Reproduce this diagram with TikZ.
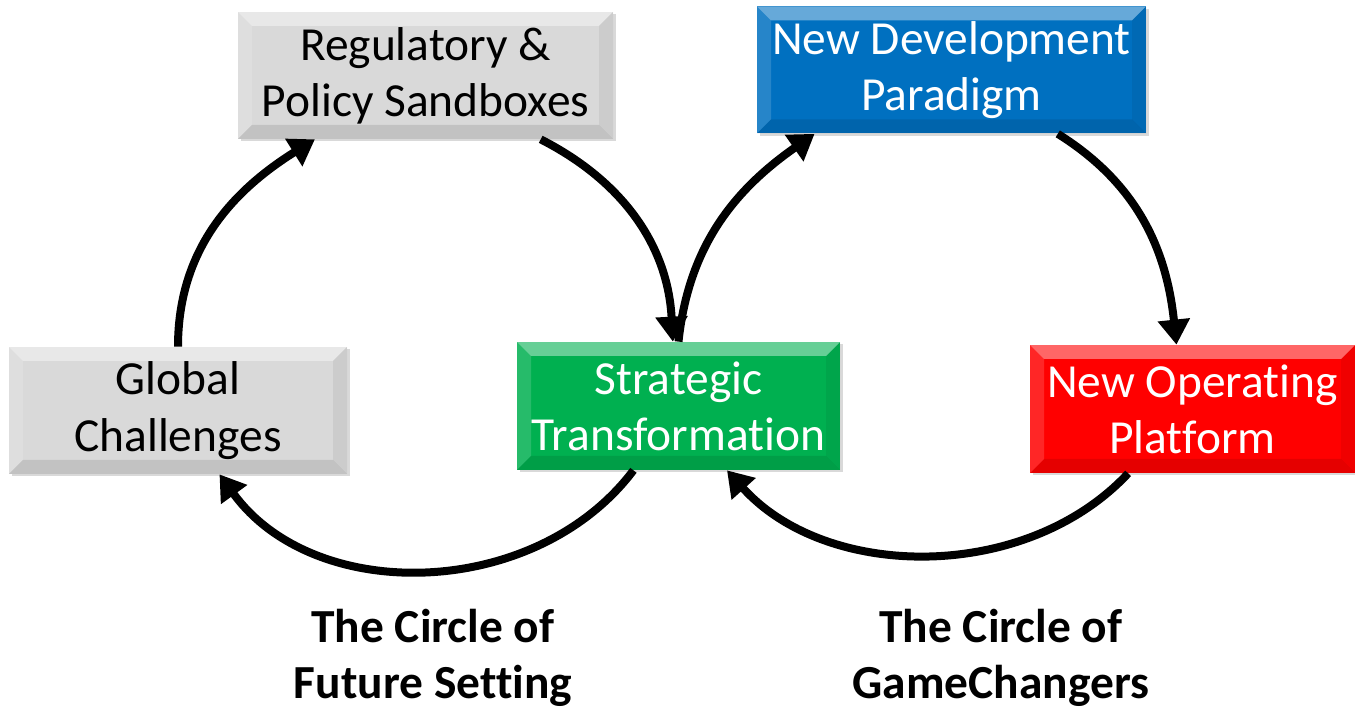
\documentclass[tikz,border=0pt]{standalone}
\usepackage{fontspec}
\setmainfont{Carlito}[Ligatures=NoCommon]
\usepackage{xcolor}
\usepackage{tikz}
\usetikzlibrary{positioning}
\usetikzlibrary{arrows.meta,shadows}
\usetikzlibrary{calc}

\begin{document}
\begin{tikzpicture}
    [%%%%%%%%%%%%%%%%%%%%%%%%%%%%%%
        box/.style={rectangle, minimum height=2.54cm, inner sep=0pt, align=center,
            font=\fontsize{27}{32}\selectfont,
            drop shadow={opacity=0.3,shadow xshift=0.05cm,shadow yshift=-0.05cm},
            path picture={
                \coordinate (bnw) at (path picture bounding box.north west);
                \coordinate (bne) at (path picture bounding box.north east);
                \coordinate (bsw) at (path picture bounding box.south west);
                \coordinate (bse) at (path picture bounding box.south east);
                \fill[white,opacity=0.4] (bnw) -- (bne) -- ($(bne)+(-0.28,-0.28)$) -- ($(bnw)+(0.28,-0.28)$) -- cycle;
                \fill[white,opacity=0.15] (bnw) -- (bsw) -- ($(bsw)+(0.28,0.28)$) -- ($(bnw)+(0.28,-0.28)$) -- cycle;
                \fill[black,opacity=0.06] (bne) -- (bse) -- ($(bse)+(-0.28,0.28)$) -- ($(bne)+(-0.28,-0.28)$) -- cycle;
                \fill[black,opacity=0.1] (bsw) -- (bse) -- ($(bse)+(-0.28,0.28)$) -- ($(bsw)+(0.28,0.28)$) -- cycle;
            }},
        cyc/.style={-{Triangle[length=0.5cm,width=0.62cm]}, line width=0.16cm},
        title/.style={align=center, font=\bfseries\fontsize{27}{32}\selectfont}
    ]%%%%%%%%%%%%%%%%%%%%%%%%%%%%%%
\definecolor{boxgray}{RGB}{217,217,217}
\definecolor{boxblue}{RGB}{0,112,192}
\definecolor{boxgreen}{RGB}{0,176,80}
\definecolor{boxred}{RGB}{255,0,0}

\useasboundingbox (0,0) rectangle (27.1,14.18);

\node[box,fill=boxgray,minimum width=7.5cm] (reg) at (8.51,12.67) {Regulatory \&\\Policy Sandboxes};
\node[box,fill=boxblue,text=white,minimum width=7.78cm] (dev) at (19.03,12.78) {New Development\\Paradigm};
\node[box,fill=boxgray,minimum width=6.76cm] (gc) at (3.56,5.97) {Global\\Challenges};
\node[box,fill=boxgreen,text=white,minimum width=6.46cm,minimum height=2.56cm] (st) at (13.57,6.06) {Strategic\\Transformation};
\node[box,fill=boxred,text=white,minimum width=6.5cm,minimum height=2.56cm] (op) at (23.85,6.0) {New Operating\\Platform};

% circle of future setting
\draw[cyc] (gc.north) to[out=90,in=212] (reg.210.5);
\draw[cyc] (reg.-29.4) to[out=-27,in=93] (st.95);
\draw[cyc] (st.-125) to[out=-127,in=-54] (gc.-57);

% circle of gamechangers
\draw[cyc] (st.north) to[out=84,in=215] (dev.-155.5);
\draw[cyc] (dev.-31.5) to[out=-32,in=96] (op.104);
\draw[cyc] (op.-135.7) to[out=-133,in=-48,looseness=0.95] (st.-53);

\node[title] (fs) at (8.66,1.02) {The Circle of\\Future Setting};
\node[title] (gch) at (20.02,1.02) {The Circle of\\GameChangers};

\end{tikzpicture}
\end{document}
